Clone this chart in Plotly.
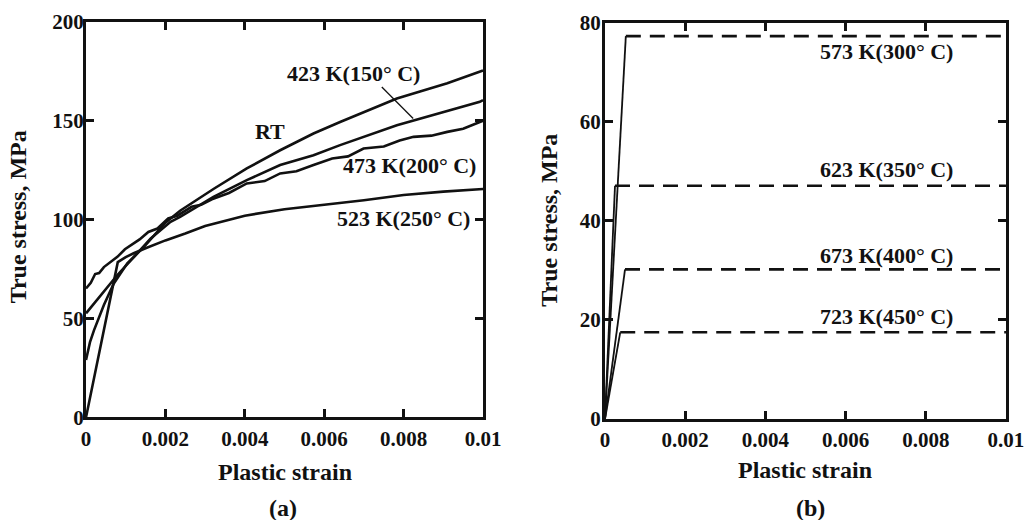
import plotly.graph_objects as go

# ---------------- Panel (a) data ----------------
rt_x = [0, 0.0001, 0.0002, 0.00045, 0.0007, 0.00104, 0.00146, 0.002, 0.00237, 0.00321,
        0.00405, 0.00489, 0.00573, 0.0064, 0.00783, 0.0091, 0.01]
rt_y = [29, 38, 44, 56.8, 67.7, 77.9, 86.2, 98.5, 104.5, 115.5,
        125.9, 135.1, 143.6, 149.4, 161.3, 169, 175.5]

k423_x = [0, 0.00037, 0.00079, 0.00121, 0.00163, 0.00213, 0.00237, 0.00321, 0.00405,
          0.00489, 0.00573, 0.0064, 0.00783, 0.00992, 0.01]
k423_y = [52.6, 61.8, 72, 81.2, 90.5, 98.9, 101.4, 111.5, 120,
          127.6, 132.6, 137.7, 147.8, 159.6, 160.5]

k473_x = [0, 0.00012, 0.00023, 0.00033, 0.00045, 0.00054, 0.00066, 0.00079, 0.00098,
          0.00113, 0.00135, 0.00157, 0.0018, 0.00207, 0.0023, 0.00266, 0.0029, 0.00317,
          0.0036, 0.00405, 0.0045, 0.00489, 0.0053, 0.00573, 0.0062, 0.0066, 0.00699,
          0.0075, 0.0079, 0.00825, 0.0087, 0.0091, 0.0095, 0.00992, 0.01]
k473_y = [65.2, 68, 72.5, 73, 76, 77.5, 79.5, 81.2, 85,
          87, 90, 93.8, 95.5, 100.6, 102, 106.5, 107.5, 110.3,
          113.5, 118.3, 119.5, 123.4, 124.5, 127.6, 130.9, 132, 136,
          137, 140, 141.9, 142.5, 144.4, 146, 149.4, 150]

k523_x = [0, 0.0008, 0.001, 0.0012, 0.0015, 0.002, 0.0025, 0.003, 0.004, 0.005,
          0.006, 0.007, 0.008, 0.009, 0.01]
k523_y = [0, 78.5, 81, 83, 85.5, 89.5, 93, 96.8, 102, 105.3,
          107.5, 109.8, 112.5, 114.2, 115.5]

leader_x = [0.00745, 0.00824]
leader_y = [167.1, 151.2]

labels_a = ["RT", "423 K(150° C)", "473 K(200° C)", "523 K(250° C)"]
labels_a_x = [0.00463, 0.00673, 0.00816, 0.00799]
labels_a_y = [144.4, 174, 127.6, 100.6]

# ---------------- Panel (b) data ----------------
temps_b = ["573 K(300° C)", "623 K(350° C)", "673 K(400° C)", "723 K(450° C)"]
yield_b = [77.3, 47.1, 30.2, 17.5]
yield_strain_b = [0.00052, 0.00025, 0.0005, 0.00038]
labels_b_x = [0.00703, 0.00703, 0.00703, 0.00703]
labels_b_y = [74.2, 50.3, 33.1, 20.7]

x_ticks = [0, 0.002, 0.004, 0.006, 0.008, 0.01]
x_ticktext = ["0", "0.002", "0.004", "0.006", "0.008", "0.01"]
ya_ticks = [0, 50, 100, 150, 200]
yb_ticks = [0, 20, 40, 60, 80]

FONT = "Liberation Serif"
BLACK = "#111111"

fig = go.Figure()

for xs, ys in [(rt_x, rt_y), (k423_x, k423_y), (k473_x, k473_y), (k523_x, k523_y)]:
    fig.add_trace(go.Scatter(x=xs, y=ys, mode="lines", xaxis="x", yaxis="y",
                             line=dict(color=BLACK, width=2.6), showlegend=False,
                             cliponaxis=False))
fig.add_trace(go.Scatter(x=leader_x, y=leader_y, mode="lines", xaxis="x", yaxis="y",
                         line=dict(color=BLACK, width=1.3), showlegend=False))

for ys, xs in zip(yield_b, yield_strain_b):
    fig.add_trace(go.Scatter(x=[0, xs], y=[0, ys], mode="lines", xaxis="x2", yaxis="y2",
                             line=dict(color=BLACK, width=1.8), showlegend=False))
    fig.add_trace(go.Scatter(x=[xs, 0.01], y=[ys, ys], mode="lines", xaxis="x2", yaxis="y2",
                             line=dict(color=BLACK, width=2.6, dash="15px,9px"),
                             showlegend=False))

tickfont = dict(family=FONT, size=21, color=BLACK, weight="bold")
axis_common = dict(showgrid=False, zeroline=False, showline=True, linecolor=BLACK,
                   linewidth=3, mirror="ticks", ticks="inside", ticklen=8, tickwidth=3,
                   tickcolor=BLACK, tickfont=tickfont, automargin=False,
                   ticklabeloverflow="allow")

fig.update_layout(
    width=1024, height=520, margin=dict(l=0, r=0, t=0, b=0, autoexpand=False),
    paper_bgcolor="white", plot_bgcolor="white",
    font=dict(family=FONT, color=BLACK),
    xaxis=dict(domain=[0.084, 0.4717], range=[0, 0.01], tickvals=x_ticks,
               ticktext=x_ticktext, anchor="y", **axis_common),
    yaxis=dict(domain=[0.1975, 0.9577], range=[0, 200], tickvals=ya_ticks,
               anchor="x", ticklabelstandoff=-5, **axis_common),
    xaxis2=dict(domain=[0.5908, 0.9824], range=[0, 0.01], tickvals=x_ticks,
                ticktext=x_ticktext, anchor="y2", **axis_common),
    yaxis2=dict(domain=[0.1942, 0.9563], range=[0, 80], tickvals=yb_ticks,
                anchor="x2", ticklabelstandoff=-3, **axis_common),
)

lab_font = dict(family=FONT, size=22, color=BLACK, weight="bold")
for t, x, y in zip(labels_a, labels_a_x, labels_a_y):
    fig.add_annotation(x=x, y=y, xref="x", yref="y", text=t, showarrow=False, font=lab_font)
for t, x, y in zip(temps_b, labels_b_x, labels_b_y):
    fig.add_annotation(x=x, y=y, xref="x2", yref="y2", text=t, showarrow=False, font=lab_font)

title_font = dict(family=FONT, size=24, color=BLACK, weight="bold")
paper_texts = [
    ("True stress, MPa", 18.3, 217, -90),
    ("True stress, MPa", 548.7, 220, -90),
    ("Plastic strain", 285, 471.7, 0),
    ("Plastic strain", 805, 470, 0),
    ("(a)", 283, 508, 0),
    ("(b)", 810, 508, 0),
]
for t, px, py, ang in paper_texts:
    fig.add_annotation(x=px / 1024, y=1 - py / 520, xref="paper", yref="paper",
                       xanchor="center", yanchor="middle", text=t, textangle=ang,
                       showarrow=False, font=title_font)

fig.write_html("out.html")
